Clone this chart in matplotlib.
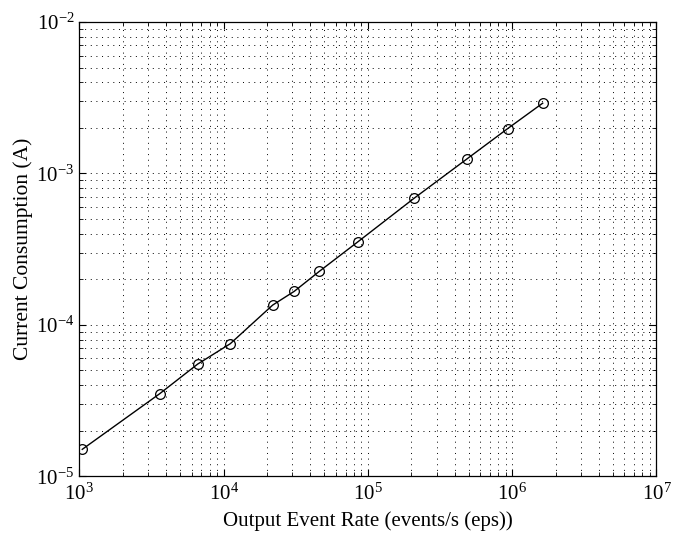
import matplotlib
matplotlib.use("Agg")
import matplotlib.pyplot as plt
from matplotlib.ticker import LogLocator, LogFormatterSciNotation, NullFormatter

plt.rcParams['font.family'] = ['Liberation Serif', 'DejaVu Serif']
plt.rcParams['mathtext.fontset'] = 'stix'

event_rate = [1049, 3607, 6615, 11130, 21890, 30850, 46050, 85390,
              209700, 483800, 932400, 1627000]
current = [1.507e-5, 3.51e-5, 5.51e-5, 7.51e-5, 1.351e-4, 1.664e-4,
           2.255e-4, 3.54e-4, 6.87e-4, 1.243e-3, 1.98e-3, 2.91e-3]

xlabel = "Output Event Rate (events/s (eps))"
ylabel = "Current Consumption (A)"

fig = plt.figure(figsize=(6.81, 5.35), dpi=100)
ax = fig.add_axes([0.1164, 0.1097, 0.8476, 0.8492])

ax.plot(event_rate, current, color='black', linewidth=1.0, marker='o',
        markersize=7, markerfacecolor='none', markeredgecolor='black',
        markeredgewidth=0.9)

ax.set_xscale('log')
ax.set_yscale('log')
ax.set_xlim(1e3, 1e7)
ax.set_ylim(1e-5, 1e-2)

for axis in (ax.xaxis, ax.yaxis):
    axis.set_major_locator(LogLocator(base=10, numticks=20))
    axis.set_minor_locator(LogLocator(base=10, subs=range(2, 10), numticks=20))
    axis.set_major_formatter(LogFormatterSciNotation())
    axis.set_minor_formatter(NullFormatter())

ax.grid(True, which='both', linestyle=(0, (1.0, 4.8)), color='black', linewidth=0.7)
ax.tick_params(which='both', direction='in', top=True, right=True,
               labelsize=15, colors='black')
ax.tick_params(which='major', length=5, width=0.8)
ax.tick_params(which='minor', length=3, width=0.6)
ax.tick_params(axis='x', which='major', pad=5)
for s in ax.spines.values():
    s.set_linewidth(0.9)

ax.set_xlabel(xlabel, fontsize=15, labelpad=5)
ax.set_ylabel(ylabel, fontsize=15.5, labelpad=2)

fig.savefig("out.png", dpi=100)
